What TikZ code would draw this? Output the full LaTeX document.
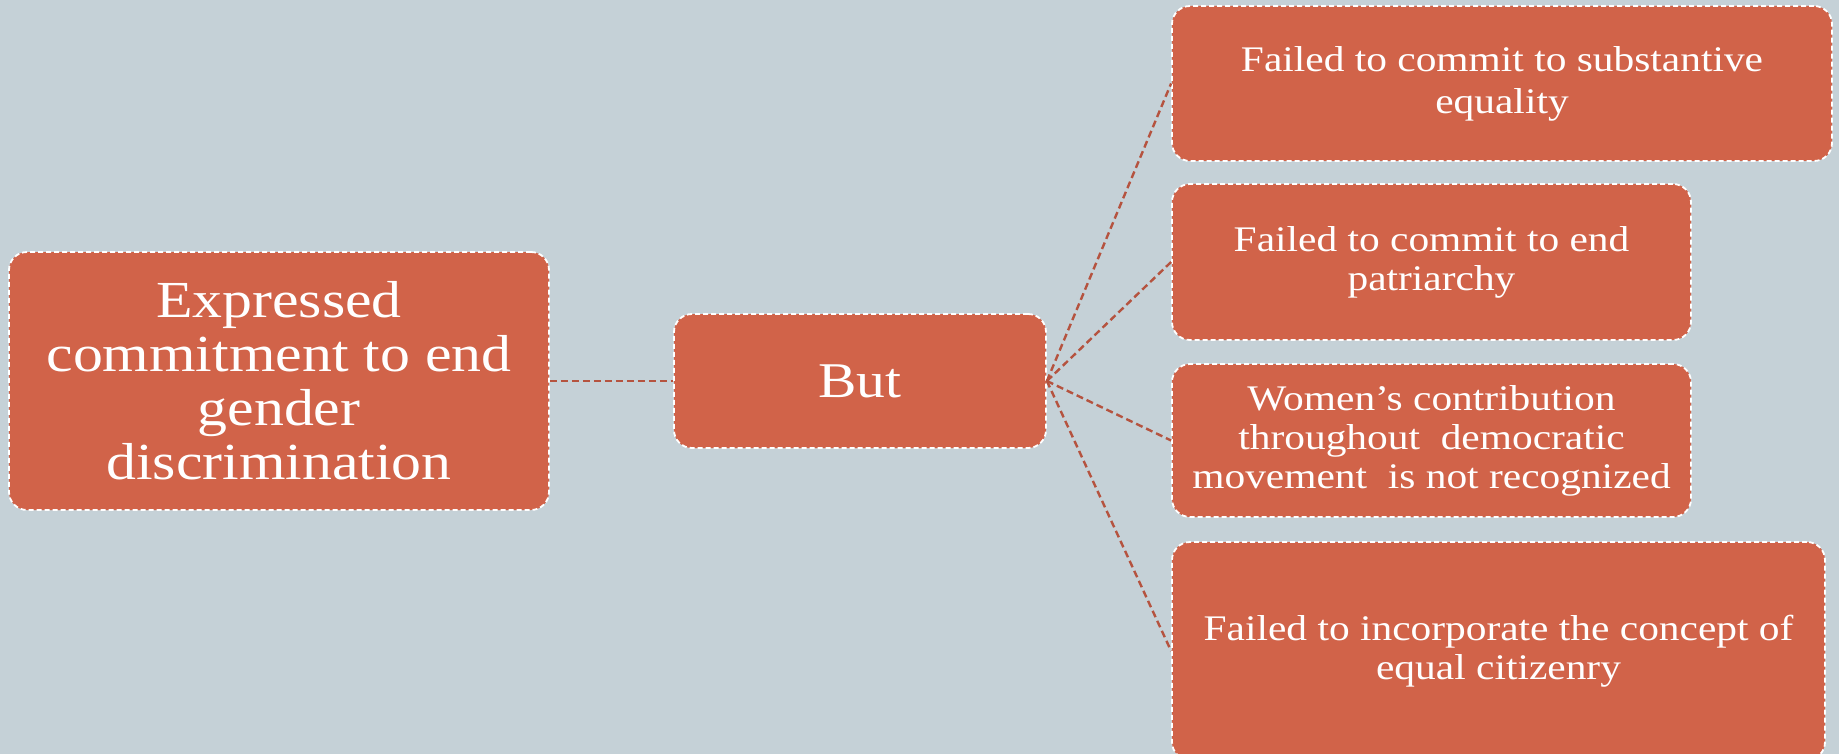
\documentclass[tikz,border=0pt]{standalone}
\usepackage{fontspec}
\setmainfont{Liberation Serif}[FakeStretch=1.15]
\definecolor{bgc}{RGB}{197,209,215}
\definecolor{boxc}{RGB}{209,99,73}
\definecolor{linec}{RGB}{181,83,63}
\tikzset{
  pbox/.style={draw=white, fill=boxc, rounded corners=18pt, line width=1.8pt,
    dash pattern=on 5pt off 3pt, text=white, align=center, inner sep=0pt},
  link/.style={draw=linec, line width=2.4pt, dash pattern=on 7pt off 4pt}
}
\begin{document}
\begin{tikzpicture}[x=1pt,y=-1pt]
\fill[bgc] (0,0) rectangle (1839,754);
\useasboundingbox (0,0) rectangle (1839,754);
\node[pbox, minimum width=540pt, minimum height=258pt, font=\fontsize{52}{54}\selectfont] (left) at (279,381) {Expressed\\commitment to end\\gender\\discrimination};
\node[pbox, minimum width=372pt, minimum height=134pt, font=\fontsize{50}{60}\selectfont] (but) at (860,381) {But};
\node[pbox, minimum width=660pt, minimum height=155pt, font=\fontsize{36}{42}\selectfont] (r1) at (1502,83.5) {Failed to commit to substantive\\equality};
\node[pbox, minimum width=519pt, minimum height=156pt, font=\fontsize{36}{39}\selectfont] (r2) at (1431.5,262) {Failed to commit to end\\patriarchy};
\node[pbox, minimum width=519pt, minimum height=153pt, font=\fontsize{36}{39}\selectfont] (r3) at (1431.5,440.5) {Women’s contribution\\throughout\ \ democratic\\movement\ \ is not recognized};
\node[pbox, minimum width=653pt, minimum height=218pt, font=\fontsize{36}{39}\selectfont] (r4) at (1498.5,651) {Failed to incorporate the concept of\\equal citizenry};
\draw[link] (left.east) -- (but.west);
\draw[link] (but.east) -- (r1.west);
\draw[link] (but.east) -- (r2.west);
\draw[link] (but.east) -- (r3.west);
\draw[link] (but.east) -- (r4.west);
\end{tikzpicture}
\end{document}
